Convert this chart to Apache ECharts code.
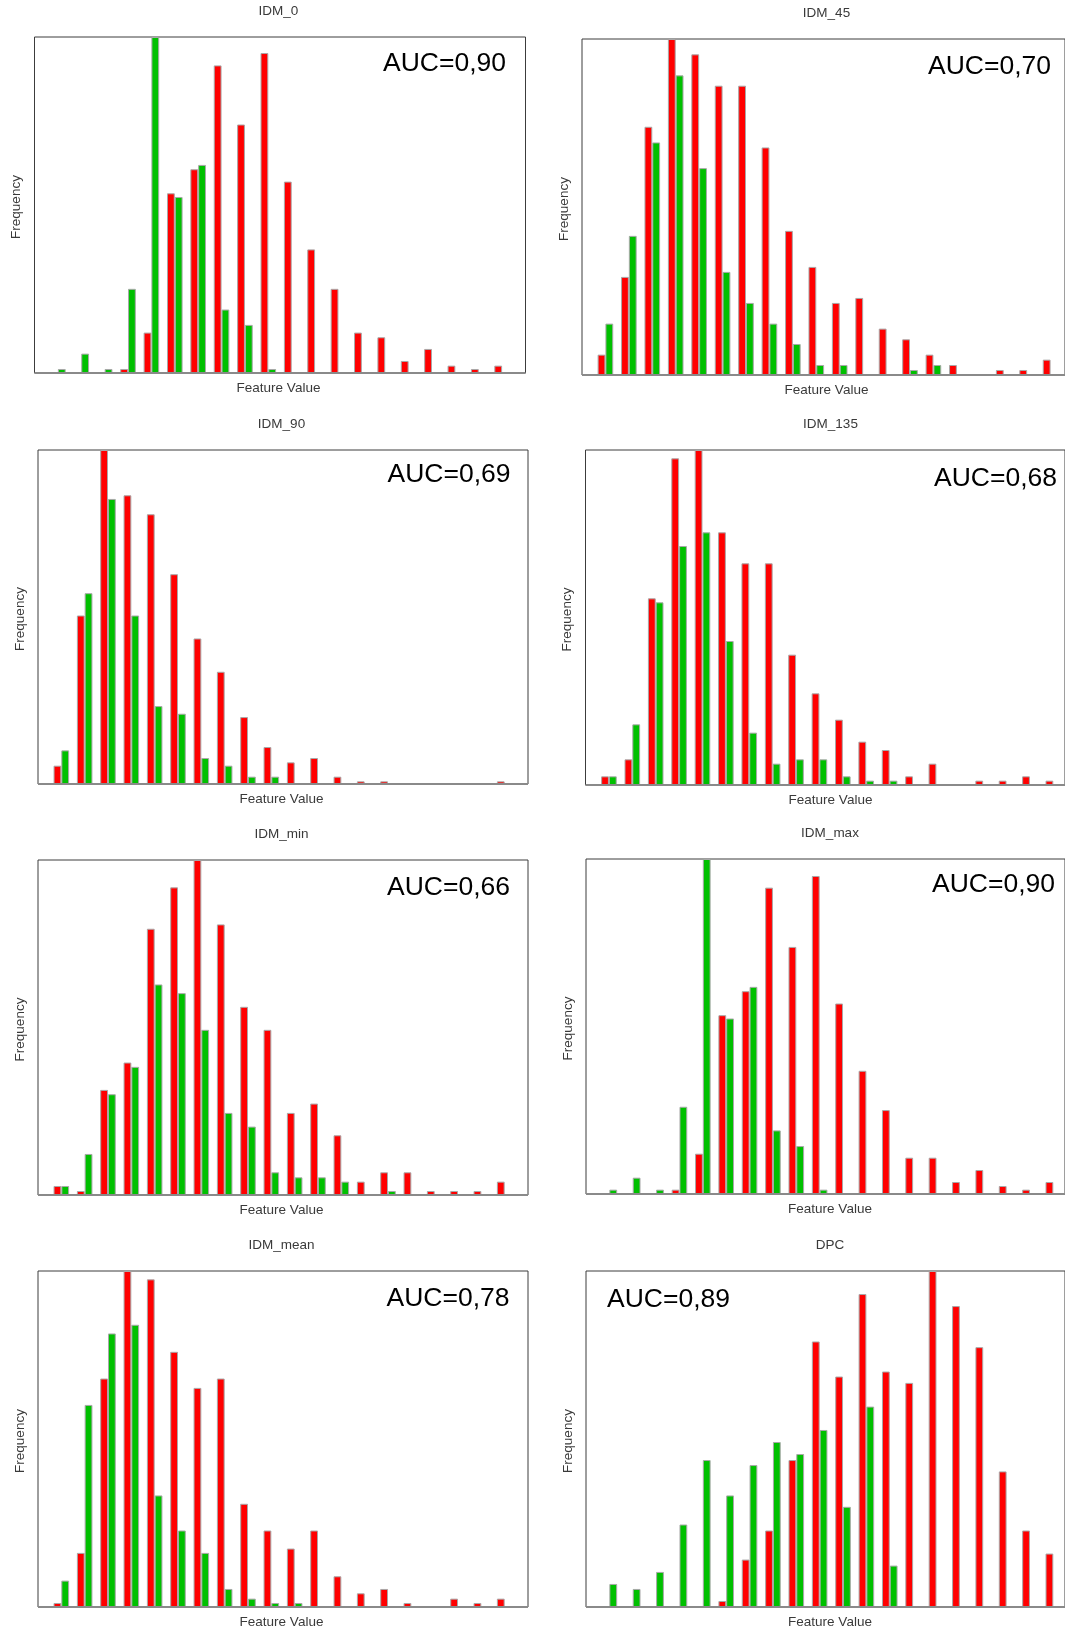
<!DOCTYPE html>
<html>
<head>
<meta charset="utf-8">
<title>IDM / DPC feature histograms</title>
<script src="https://cdn.jsdelivr.net/npm/echarts@6/dist/echarts.min.js"></script>
<style>
  html, body { margin: 0; padding: 0; background: #ffffff; }
  #chart { width: 1065px; height: 1629px; }
</style>
</head>
<body>
<div id="chart"></div>
<script>
// Histogram bins (20 per feature) and relative frequencies per class
const bins = ['1','2','3','4','5','6','7','8','9','10','11','12','13','14','15','16','17','18','19','20'];

const idm0Red    = [0, 0, 0, 12, 121, 538, 610, 921, 744, 958, 573, 370, 252, 121, 107, 36, 72, 22, 12, 22];
const idm0Green  = [12, 58, 12, 252, 1006, 527, 623, 190, 144, 12, 0, 0, 0, 0, 0, 0, 0, 0, 0, 0];

const idm45Red   = [61, 294, 744, 1007, 961, 867, 867, 682, 432, 324, 216, 231, 139, 107, 61, 30, 0, 15, 15, 46];
const idm45Green = [154, 417, 697, 898, 620, 309, 216, 154, 93, 30, 30, 0, 0, 15, 30, 0, 0, 0, 0, 0];

const idm90Red   = [55, 506, 1003, 867, 810, 630, 437, 337, 201, 111, 65, 78, 22, 8, 8, 0, 0, 0, 0, 8];
const idm90Green = [101, 573, 856, 506, 234, 211, 78, 55, 22, 22, 0, 0, 0, 0, 0, 0, 0, 0, 0, 0];

const idm135Red   = [26, 77, 560, 980, 1005, 758, 665, 665, 391, 275, 196, 130, 105, 26, 64, 0, 13, 13, 26, 13];
const idm135Green = [26, 182, 548, 717, 758, 432, 157, 64, 77, 77, 26, 13, 13, 0, 0, 0, 0, 0, 0, 0];

const idmMinRed   = [27, 12, 315, 397, 798, 922, 1004, 811, 564, 495, 246, 274, 179, 40, 68, 68, 12, 12, 12, 40];
const idmMinGreen = [27, 123, 302, 384, 631, 605, 495, 246, 205, 68, 53, 53, 40, 0, 12, 0, 0, 0, 0, 0];

const idmMaxRed   = [0, 0, 0, 13, 121, 537, 609, 920, 742, 955, 572, 370, 252, 109, 109, 36, 72, 24, 13, 36];
const idmMaxGreen = [13, 49, 13, 262, 1006, 527, 622, 191, 144, 13, 0, 0, 0, 0, 0, 0, 0, 0, 0, 0];

const idmMeanRed   = [12, 162, 684, 1006, 981, 764, 656, 684, 309, 229, 175, 229, 92, 41, 54, 12, 0, 25, 12, 25];
const idmMeanGreen = [79, 605, 819, 845, 334, 229, 162, 54, 25, 12, 12, 0, 0, 0, 0, 0, 0, 0, 0, 0];

const dpcRed   = [0, 0, 0, 0, 0, 18, 142, 229, 440, 795, 690, 937, 705, 671, 1006, 901, 778, 406, 229, 160];
const dpcGreen = [69, 54, 105, 247, 440, 334, 425, 494, 458, 530, 300, 600, 124, 0, 0, 0, 0, 0, 0, 0];

const featureNames = ['IDM_0', 'IDM_45', 'IDM_90', 'IDM_135', 'IDM_min', 'IDM_max', 'IDM_mean', 'DPC'];
const aucLabels = ['AUC=0,90', 'AUC=0,70', 'AUC=0,69', 'AUC=0,68', 'AUC=0,66', 'AUC=0,90', 'AUC=0,78', 'AUC=0,89'];
const redSeries = [idm0Red, idm45Red, idm90Red, idm135Red, idmMinRed, idmMaxRed, idmMeanRed, dpcRed];
const greenSeries = [idm0Green, idm45Green, idm90Green, idm135Green, idmMinGreen, idmMaxGreen, idmMeanGreen, dpcGreen];

// Panel frames [left, top, width, height] and AUC annotation anchors
const frames = [
  [34.5, 37, 491, 336], [582, 39, 492, 336],
  [38, 450, 490, 334], [585.5, 450, 493, 335],
  [38, 860, 490, 335], [586, 859, 491, 335],
  [38, 1271, 490, 336], [586, 1271, 491, 336]
];
const aucAnchors = [
  [506, 64, 'right'], [1051, 67, 'right'],
  [510.5, 474.5, 'right'], [1057, 479, 'right'],
  [510, 887.5, 'right'], [1055, 885, 'right'],
  [509.5, 1299, 'right'], [607, 1300, 'left']
];

const FONT = "'Liberation Sans', Arial, Helvetica, sans-serif";
const RED = '#ff0000';
const GREEN = '#00c000';
const EDGE = '#a8a8a8';
const LABEL = '#3a3a3a';

const grids = [];
const frameGrids = [];
const xAxes = [];
const yAxes = [];
const series = [];
const graphics = [];

featureNames.forEach((name, i) => {
  const [fx, fy, fw, fh] = frames[i];
  // 63 bar-widths across the frame: 1.5 bar-width margin each side around 20 bands of 3
  const u = fw / 63;
  grids.push({ left: fx + 1.5 * u, top: fy, width: 60 * u, height: fh, containLabel: false });
  frameGrids.push({ left: fx, top: fy, width: fw, height: fh, show: true,
                    borderColor: '#3c3c3c', borderWidth: 1, backgroundColor: 'transparent' });

  xAxes.push({ type: 'category', gridIndex: i, data: bins, boundaryGap: true, show: false });
  const peak = Math.max(...redSeries[i], ...greenSeries[i]);
  yAxes.push({ type: 'value', gridIndex: i, min: 0, max: peak, show: false, splitLine: { show: false } });

  const common = {
    type: 'bar', xAxisIndex: i, yAxisIndex: i,
    barGap: '0%', barCategoryGap: '33.3333%',
    silent: true, animation: false
  };
  series.push(Object.assign({}, common, {
    name: name + ' red', data: redSeries[i],
    itemStyle: { color: RED, borderColor: EDGE, borderWidth: 1 }
  }));
  series.push(Object.assign({}, common, {
    name: name + ' green', data: greenSeries[i],
    itemStyle: { color: GREEN, borderColor: EDGE, borderWidth: 1 }
  }));

  const cx = fx + fw / 2 - 1.5;
  // feature title
  graphics.push({ type: 'text', z: 20, style: {
    text: name, x: cx, y: fy - 25.5, fill: LABEL,
    font: '13.5px ' + FONT, textAlign: 'center', textVerticalAlign: 'middle' } });
  // x axis name
  graphics.push({ type: 'text', z: 20, style: {
    text: 'Feature Value', x: cx, y: fy + fh + 15.5, fill: LABEL,
    font: '13.5px ' + FONT, textAlign: 'center', textVerticalAlign: 'middle' } });
  // y axis name
  graphics.push({ type: 'text', z: 20, x: fx - 18, y: fy + fh / 2 + 2, rotation: Math.PI / 2, style: {
    text: 'Frequency', x: 0, y: 0, fill: LABEL,
    font: '13.5px ' + FONT, textAlign: 'center', textVerticalAlign: 'middle' } });
  // AUC annotation
  const [ax, ay, align] = aucAnchors[i];
  graphics.push({ type: 'text', z: 20, style: {
    text: aucLabels[i], x: ax, y: ay, fill: '#000000',
    font: '26.5px ' + FONT, textAlign: align, textVerticalAlign: 'middle' } });
  // baseline along the bottom of the frame
  graphics.push({ type: 'line', z: 15, shape: { x1: fx, y1: fy + fh, x2: fx + fw, y2: fy + fh },
    style: { stroke: '#8a8a8a', lineWidth: 2 } });
});

const chart = echarts.init(document.getElementById('chart'), null, { renderer: 'canvas' });
chart.setOption({
  backgroundColor: '#ffffff',
  animation: false,
  grid: grids.concat(frameGrids),
  xAxis: xAxes,
  yAxis: yAxes,
  series: series,
  graphic: { elements: graphics }
});
</script>
</body>
</html>
